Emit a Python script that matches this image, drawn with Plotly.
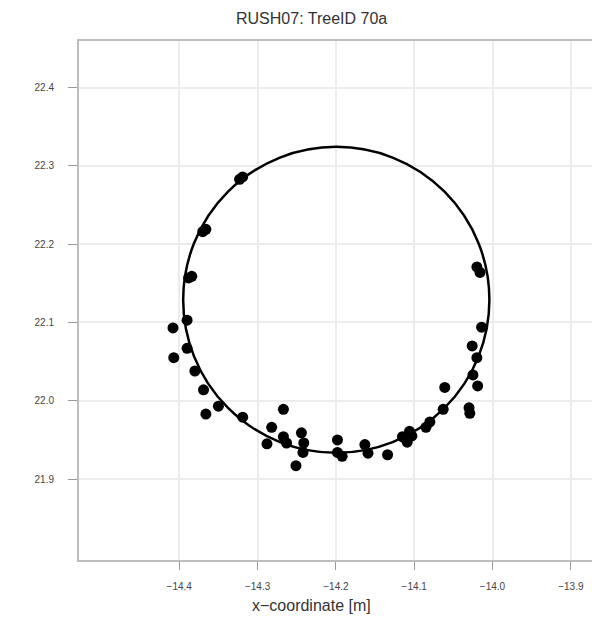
import plotly.graph_objects as go

# Stem cross-section points (m)
x_pts = [-14.323, -14.319, -14.370, -14.366, -14.388, -14.384, -14.390, -14.408,
         -14.390, -14.407, -14.380, -14.369, -14.350, -14.366, -14.319, -14.267,
         -14.282, -14.288, -14.267, -14.263, -14.244, -14.241, -14.242, -14.251,
         -14.198, -14.198, -14.192, -14.163, -14.159, -14.134, -14.115, -14.109,
         -14.106, -14.085, -14.080, -14.063, -14.061, -14.030, -14.029, -14.025,
         -14.019, -14.026, -14.020, -14.014, -14.020, -14.016, -14.103]
y_pts = [22.283, 22.286, 22.216, 22.219, 22.157, 22.159, 22.103, 22.093,
         22.067, 22.055, 22.038, 22.014, 21.993, 21.983, 21.979, 21.989,
         21.966, 21.945, 21.954, 21.946, 21.959, 21.946, 21.934, 21.917,
         21.950, 21.934, 21.929, 21.944, 21.933, 21.931, 21.954, 21.947,
         21.961, 21.966, 21.973, 21.989, 22.017, 21.991, 21.984, 22.033,
         22.019, 22.070, 22.055, 22.094, 22.171, 22.164, 21.955]

# Fitted circle
circle_cx = -14.1995
circle_cy = 22.129
circle_r = 0.1955

x_ticks = [-14.4, -14.3, -14.2, -14.1, -14.0, -13.9]
y_ticks = [21.9, 22.0, 22.1, 22.2, 22.3, 22.4]

title_text = "RUSH07: TreeID 70a"
xlabel_text = "x\u2212coordinate [m]"

W, H = 592, 625
ML, MR, MT, MB = 79, 0, 41, 65

fig = go.Figure()
fig.add_trace(go.Scatter(
    x=x_pts, y=y_pts, mode="markers",
    marker=dict(size=11, color="black"),
    showlegend=False, hoverinfo="skip",
))

fig.add_shape(
    type="circle", xref="x", yref="y",
    x0=circle_cx - circle_r, x1=circle_cx + circle_r,
    y0=circle_cy - circle_r, y1=circle_cy + circle_r,
    line=dict(color="black", width=2.5),
)

tick_font = dict(family="Liberation Sans, Arial, sans-serif", size=10, color="#444444")

fig.update_layout(
    width=W, height=H,
    margin=dict(l=ML, r=MR, t=MT, b=MB),
    paper_bgcolor="white", plot_bgcolor="white",
    font=dict(family="Liberation Sans, Arial, sans-serif"),
    xaxis=dict(
        range=[-14.528, -13.873], tickvals=x_ticks, tickformat=".1f",
        showgrid=True, gridcolor="#ececec", gridwidth=2,
        zeroline=False, showline=True, mirror=True,
        linecolor="#bdbdbd", linewidth=2,
        ticks="outside", ticklen=8, tickcolor="#999999", tickwidth=1,
        tickfont=tick_font, ticklabelstandoff=8,
    ),
    yaxis=dict(
        range=[21.7965, 22.4597], tickvals=y_ticks, tickformat=".1f",
        showgrid=True, gridcolor="#ececec", gridwidth=2,
        zeroline=False, showline=True, mirror=False,
        linecolor="#bdbdbd", linewidth=2,
        ticks="outside", ticklen=9, tickcolor="#999999", tickwidth=1,
        tickfont=tick_font, ticklabelstandoff=12,
    ),
    annotations=[
        dict(text=title_text, xref="paper", yref="paper",
             x=(311 - ML) / (W - ML - MR), y=1 + (MT - 18) / (H - MT - MB),
             xanchor="center", yanchor="middle", showarrow=False,
             font=dict(size=16, color="#333333")),
        dict(text=xlabel_text, xref="paper", yref="paper",
             x=(311 - ML) / (W - ML - MR), y=-(605 - (H - MB)) / (H - MT - MB),
             xanchor="center", yanchor="middle", showarrow=False,
             font=dict(size=16, color="#333333")),
    ],
)

fig.write_html("out.html")
